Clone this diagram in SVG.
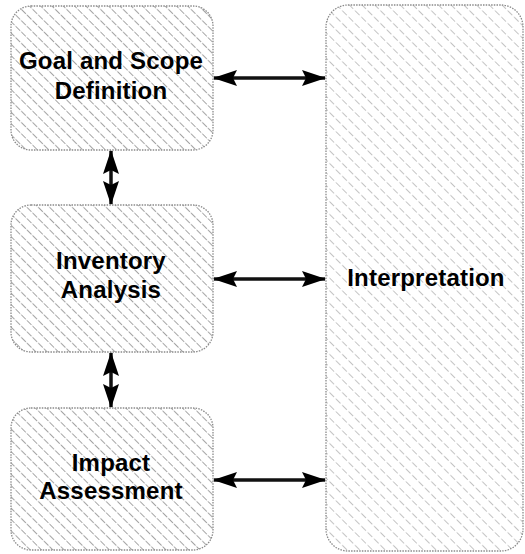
<svg xmlns="http://www.w3.org/2000/svg" width="525" height="554" viewBox="0 0 525 554">
<defs>
<pattern id="hatch" width="8" height="8" patternUnits="userSpaceOnUse" patternTransform="rotate(-45)">
<rect width="8" height="8" fill="#fff"/>
<line x1="0" y1="0" x2="0" y2="8" stroke="#5a5a5a" stroke-width="1.1" stroke-dasharray="4 1.5"/>
</pattern>
<pattern id="hatch2" width="9" height="9" patternUnits="userSpaceOnUse" patternTransform="rotate(-45)">
<rect width="9" height="9" fill="#fff"/>
<line x1="0" y1="0" x2="0" y2="9" stroke="#888" stroke-width="1" stroke-dasharray="4 2.5"/>
</pattern>
<marker id="ah" viewBox="0 0 24 18" refX="23" refY="9" markerWidth="24" markerHeight="18" markerUnits="userSpaceOnUse" orient="auto-start-reverse">
<path d="M0,1 L24,9 L0,17 L4,9 Z" fill="#000"/>
</marker>
</defs>
<style>
.box{stroke:#8a8a8a;stroke-width:1.3;stroke-dasharray:1.5 1.2}
.lbl{font-family:"Liberation Sans",Arial,sans-serif;font-weight:bold;font-size:24px;fill:#000;text-anchor:middle;letter-spacing:0.2px}
.conn{stroke:#111;stroke-width:3.5;fill:none}
</style>
<g id="goal">
<rect class="box" x="11" y="6" width="202" height="144" rx="20" fill="url(#hatch)"/>
<text class="lbl" x="111" y="69">Goal and Scope</text>
<text class="lbl" x="111" y="99">Definition</text>
</g>
<g id="inventory">
<rect class="box" x="11" y="205" width="202" height="147" rx="20" fill="url(#hatch)"/>
<text class="lbl" x="111" y="269">Inventory</text>
<text class="lbl" x="111" y="298">Analysis</text>
</g>
<g id="impact">
<rect class="box" x="11" y="408" width="202" height="142" rx="20" fill="url(#hatch)"/>
<text class="lbl" x="111" y="471">Impact</text>
<text class="lbl" x="111" y="499">Assessment</text>
</g>
<g id="interpretation">
<rect class="box" x="326" y="5" width="197" height="546" rx="22" fill="url(#hatch2)"/>
<text class="lbl" x="426" y="286">Interpretation</text>
</g>
<g id="connectors">
<line class="conn" x1="214" y1="78" x2="325" y2="78" marker-start="url(#ah)" marker-end="url(#ah)"/>
<line class="conn" x1="214" y1="279" x2="325" y2="279" marker-start="url(#ah)" marker-end="url(#ah)"/>
<line class="conn" x1="214" y1="480" x2="325" y2="480" marker-start="url(#ah)" marker-end="url(#ah)"/>
<line class="conn" x1="111" y1="151" x2="111" y2="204" marker-start="url(#ah)" marker-end="url(#ah)"/>
<line class="conn" x1="111" y1="353" x2="111" y2="407" marker-start="url(#ah)" marker-end="url(#ah)"/>
</g>
</svg>
